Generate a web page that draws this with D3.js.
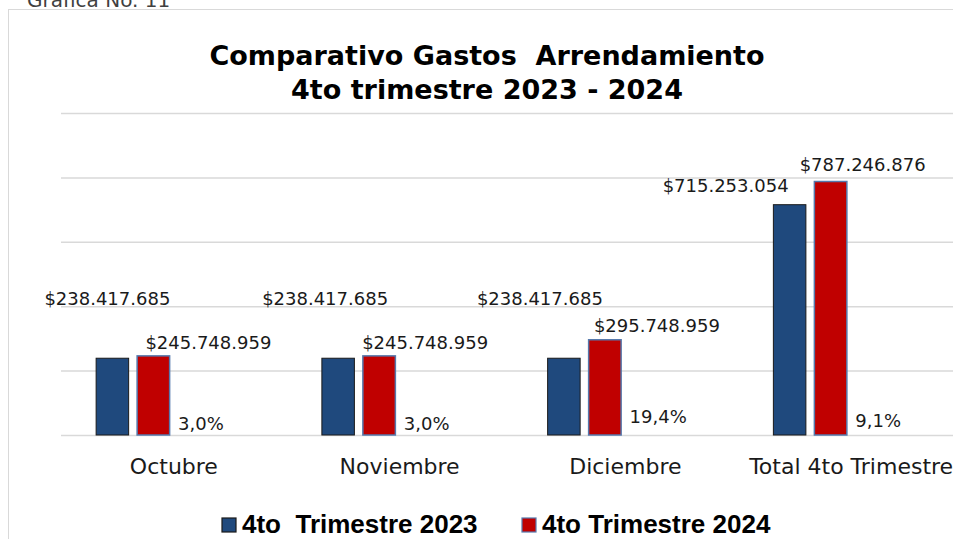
<!DOCTYPE html>
<html>
<head>
<meta charset="utf-8">
<script src="https://cdn.jsdelivr.net/npm/d3@7"></script>
<style>
  body { margin: 0; background: #fff; }
  svg { display: block; }
  text { white-space: pre; }
</style>
</head>
<body>
<script>
var width = 953,
    height = 539;

var categories = ['Octubre', 'Noviembre', 'Diciembre', 'Total 4to Trimestre'];
var seriesNames = ['4to  Trimestre 2023', '4to Trimestre 2024'];
var values2023 = [238417685, 238417685, 238417685, 715253054];
var values2024 = [245748959, 245748959, 295748959, 787246876];
var variation = [3.0, 3.0, 19.4, 9.1];
var yTicks = [0, 200e6, 400e6, 600e6, 800e6, 1000e6];

var fills = ['#1f497d', '#c00000'];
var strokes = ['#1a1a1a', '#5579ad'];

// data labels were dragged by hand in the original: [dx from bar centre, dy from bar top]
var nudge2023 = [[-5, -53], [-13, -53], [-24, -53], [-64, -13]];
var nudge2024 = [[55, -7], [46, -7], [52, -8], [32, -11]];

var es = d3.formatLocale({ decimal: ',', thousands: '.', grouping: [3], currency: ['$', ''] });
var money = es.format('$,d'),
    pct = es.format(',.1f');

var svg = d3.select('body').append('svg')
    .attr('width', width)
    .attr('height', height);

// caption sits half off the top of the page, as in the original
svg.append('text')
    .attr('x', 27).attr('y', 7)
    .attr('font-family', 'DejaVu Sans').attr('font-size', 20)
    .attr('fill', '#404040')
    .text('Grafica No. 11');

// chart frame, runs off the right and bottom of the page
svg.append('rect')
    .attr('x', 8.5).attr('y', 9.5)
    .attr('width', 1000).attr('height', 600)
    .attr('fill', 'none').attr('stroke', '#d9d9d9');

var title = svg.append('text')
    .attr('text-anchor', 'middle')
    .attr('font-family', 'DejaVu Sans').attr('font-weight', 'bold').attr('font-size', 27)
    .attr('fill', '#000');
title.append('tspan').attr('x', 487).attr('y', 65).text('Comparativo Gastos  Arrendamiento');
title.append('tspan').attr('x', 487).attr('y', 99).text('4to trimestre 2023 - 2024');

var x = d3.scaleBand().domain(categories).range([61, 964]).padding(0);
var x1 = d3.scaleBand().domain([0, 1, 2, 3]).range([0, x.bandwidth()])
    .paddingInner(0.207).paddingOuter(0.857);
var y = d3.scaleLinear().domain([0, 1e9]).range([435, 113]);
// the % series sits on its own (hidden) secondary scale
var yPct = d3.scaleLinear().domain([0, 100]).range([0, 43]);

var grid = svg.append('g')
    .attr('transform', 'translate(61,0)')
    .call(d3.axisLeft(y).tickValues(yTicks).tickSize(-(964 - 61)).tickFormat(''));
grid.select('.domain').remove();
grid.selectAll('line').attr('stroke', '#d9d9d9').attr('stroke-width', 1.5);

var series = [values2023, values2024];
var nudges = [nudge2023, nudge2024];

series.forEach(function(vals, s) {
  var g = svg.append('g');
  g.selectAll('rect')
      .data(vals)
    .enter().append('rect')
      .attr('x', function(d, i) { return x(categories[i]) + x1(s); })
      .attr('y', function(d) { return y(d); })
      .attr('width', x1.bandwidth())
      .attr('height', function(d) { return y(0) - y(d); })
      .attr('fill', fills[s])
      .attr('stroke', strokes[s])
      .attr('stroke-width', s ? 1.5 : 1);

  g.selectAll('text')
      .data(vals)
    .enter().append('text')
      .attr('x', function(d, i) { return x(categories[i]) + x1(s) + x1.bandwidth() / 2 + nudges[s][i][0]; })
      .attr('y', function(d, i) { return y(d) + nudges[s][i][1]; })
      .attr('text-anchor', 'middle')
      .attr('font-family', 'DejaVu Sans').attr('font-size', 18)
      .attr('fill', '#1a1a1a')
      .text(function(d) { return money(d); });
});

svg.append('g').selectAll('text')
    .data(variation)
  .enter().append('text')
    .attr('x', function(d, i) { return x(categories[i]) + x1(2); })
    .attr('y', function(d) { return y(0) - 4 - yPct(d); })
    .attr('font-family', 'DejaVu Sans').attr('font-size', 18)
    .attr('fill', '#1a1a1a')
    .text(function(d) { return pct(d) + '%'; });

svg.append('g').selectAll('text')
    .data(categories)
  .enter().append('text')
    .attr('x', function(d) { return x(d) + x.bandwidth() / 2; })
    .attr('y', 474)
    .attr('text-anchor', 'middle')
    .attr('font-family', 'DejaVu Sans').attr('font-size', 22)
    .attr('fill', '#1a1a1a')
    .text(function(d) { return d; });

var legendX = [222, 522];
var legend = svg.append('g').selectAll('g')
    .data(seriesNames)
  .enter().append('g')
    .attr('transform', function(d, i) { return 'translate(' + legendX[i] + ',518)'; });
legend.append('rect')
    .attr('width', 14).attr('height', 14)
    .attr('fill', function(d, i) { return fills[i]; })
    .attr('stroke', function(d, i) { return strokes[i]; })
    .attr('stroke-width', 1.2);
legend.append('text')
    .attr('x', 20).attr('y', 15)
    .attr('font-family', 'Liberation Sans').attr('font-weight', 'bold').attr('font-size', 26)
    .attr('fill', '#000')
    .text(function(d) { return d; });
</script>
</body>
</html>
